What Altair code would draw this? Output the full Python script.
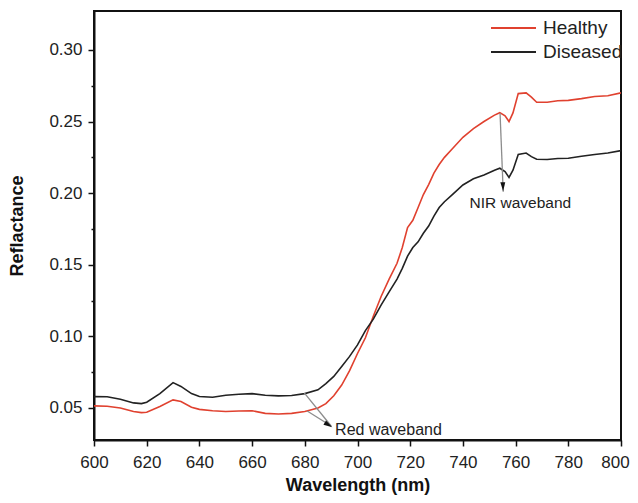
import altair as alt
import pandas as pd

# ---------------- data ----------------
wavelength = [600, 605, 610, 615, 618, 620, 625, 630, 633, 637, 640, 645, 650, 655, 660,
              665, 670, 675, 680, 685, 688, 691, 694, 697, 700, 703, 706, 709, 712, 715,
              717, 719, 721, 723, 725, 727, 729, 731, 733, 736, 740, 744, 748, 752, 754,
              756, 757.5, 759, 761, 764, 766, 768, 772, 776, 780, 785, 790, 795, 800]

healthy = [0.0514, 0.0512, 0.0500, 0.0475, 0.0467, 0.0470, 0.0510, 0.0556, 0.0545, 0.0505,
           0.0490, 0.0480, 0.0475, 0.0478, 0.0480, 0.0462, 0.0458, 0.0462, 0.0475, 0.0500,
           0.0530, 0.0585, 0.0660, 0.0760, 0.0880, 0.0990, 0.1140, 0.1280, 0.1400, 0.1510,
           0.1620, 0.1760, 0.1810, 0.1900, 0.1990, 0.2060, 0.2140, 0.2200, 0.2250, 0.2310,
           0.2390, 0.2450, 0.2500, 0.2545, 0.2562, 0.2540, 0.2500, 0.2560, 0.2695, 0.2700,
           0.2670, 0.2635, 0.2635, 0.2645, 0.2648, 0.2660, 0.2675, 0.2680, 0.2700]

diseased = [0.0579, 0.0578, 0.0560, 0.0535, 0.0530, 0.0540, 0.0600, 0.0677, 0.0650, 0.0600,
            0.0580, 0.0575, 0.0588, 0.0595, 0.0600, 0.0588, 0.0584, 0.0587, 0.0600, 0.0626,
            0.0670, 0.0720, 0.0790, 0.0860, 0.0940, 0.1040, 0.1120, 0.1220, 0.1310, 0.1400,
            0.1475, 0.1560, 0.1620, 0.1660, 0.1720, 0.1770, 0.1840, 0.1900, 0.1940, 0.1990,
            0.2057, 0.2100, 0.2127, 0.2160, 0.2174, 0.2150, 0.2110, 0.2160, 0.2270, 0.2280,
            0.2255, 0.2237, 0.2235, 0.2242, 0.2244, 0.2258, 0.2270, 0.2280, 0.2297]

series_names = ["Healthy", "Diseased"]
series_colors = ["#e0412f", "#222222"]

x_ticks = list(range(600, 801, 10))
y_ticks = [0.05, 0.075, 0.10, 0.125, 0.15, 0.175, 0.20, 0.225, 0.25, 0.275, 0.30]

# annotation arrows (data units)
arrow_x = [754.1, 679.8, 680.9]
arrow_y = [0.2558, 0.0605, 0.0479]
arrow_x2 = [755.3, 690.0, 690.0]
arrow_y2 = [0.2010, 0.0374, 0.0374]

head_x = [755.2, 689.0]
head_y = [0.2045, 0.0381]
head_angle = [178, 122]

label_text = ["NIR waveband", "Red waveband"]
label_x = [761.8, 691.5]
label_y = [0.1930, 0.0346]

# ---------------- tables ----------------
df = pd.DataFrame({
    "Wavelength": wavelength * 2,
    "Reflectance": healthy + diseased,
    "Series": [series_names[0]] * len(wavelength) + [series_names[1]] * len(wavelength),
})
arrows = pd.DataFrame({"x": arrow_x, "y": arrow_y, "x2": arrow_x2, "y2": arrow_y2})
heads = pd.DataFrame({"x": head_x, "y": head_y, "angle": head_angle})
labels = pd.DataFrame({"x": label_x, "y": label_y, "text": label_text})

FONT = "Liberation Sans"
xscale = alt.Scale(domain=[600, 800], nice=False, zero=False)
yscale = alt.Scale(domain=[0.0276, 0.3272], nice=False, zero=False)

x_axis = alt.Axis(
    title="Wavelength (nm)", values=x_ticks,
    labelExpr="datum.value % 20 === 0 ? format(datum.value, 'd') : ''",
    tickSize={"condition": {"test": "datum.value % 20 === 0", "value": 6}, "value": 3},
    labelOffset={"condition": {"test": "datum.value === 800", "value": -6}, "value": 0},
    labelFlush=False, labelOverlap=False, grid=False,
    labelPadding=8, titlePadding=6,
)
y_axis = alt.Axis(
    title="Reflactance", values=y_ticks,
    labelExpr="abs(datum.value * 20 - round(datum.value * 20)) < 0.001 ? format(datum.value, '.2f') : ''",
    tickSize={"condition": {"test": "abs(datum.value * 20 - round(datum.value * 20)) < 0.001", "value": 6}, "value": 3},
    labelOverlap=False, grid=False, labelPadding=6, titlePadding=22,
)

lines = alt.Chart(df).mark_line(strokeWidth=1.6, clip=True).encode(
    x=alt.X("Wavelength:Q", scale=xscale, axis=x_axis),
    y=alt.Y("Reflectance:Q", scale=yscale, axis=y_axis),
    color=alt.Color(
        "Series:N",
        scale=alt.Scale(domain=series_names, range=series_colors),
        sort=series_names,
        legend=alt.Legend(
            title=None, orient="none", legendX=396, legendY=5,
            symbolType="stroke", symbolSize=2025, symbolStrokeWidth=2,
            labelFontSize=19, labelFont=FONT, labelColor="#222222",
            labelOffset=6, rowPadding=0, clipHeight=24,
        ),
    ),
    detail="Series:N",
)

arrow_lines = alt.Chart(arrows).mark_rule(color="#8c8c8c", strokeWidth=1.3).encode(
    x="x:Q", y="y:Q", x2="x2:Q", y2="y2:Q"
)

arrow_heads = alt.Chart(heads).mark_point(
    shape="M0,-1L0.55,1L-0.55,1Z", filled=True, color="#111111", opacity=1, size=80
).encode(x="x:Q", y="y:Q", angle=alt.Angle("angle:Q", scale=None))

nir_text = alt.Chart(labels.iloc[[0]]).mark_text(
    fontSize=15.5, font=FONT, color="#222222", baseline="middle", align="center"
).encode(x="x:Q", y="y:Q", text="text:N")
red_text = alt.Chart(labels.iloc[[1]]).mark_text(
    fontSize=16, font=FONT, color="#222222", baseline="middle", align="left"
).encode(x="x:Q", y="y:Q", text="text:N")

chart = alt.layer(lines, arrow_lines, arrow_heads, nir_text, red_text).properties(
    width=527, height=429,
    autosize=alt.AutoSizeParams(type="none"),
    padding={"left": 86, "top": 3, "right": 9, "bottom": 55},
    background="white",
).configure_view(
    stroke="#111111", strokeWidth=2
).configure_axis(
    domainColor="#111111", domainWidth=2, tickColor="#111111", tickWidth=1.5,
    labelFont=FONT, labelFontSize=17, labelColor="#222222",
    titleFont=FONT, titleFontSize=18, titleFontWeight="bold", titleColor="#111111",
)

chart.save("out.html", embed_options={"renderer": "svg", "actions": False})
